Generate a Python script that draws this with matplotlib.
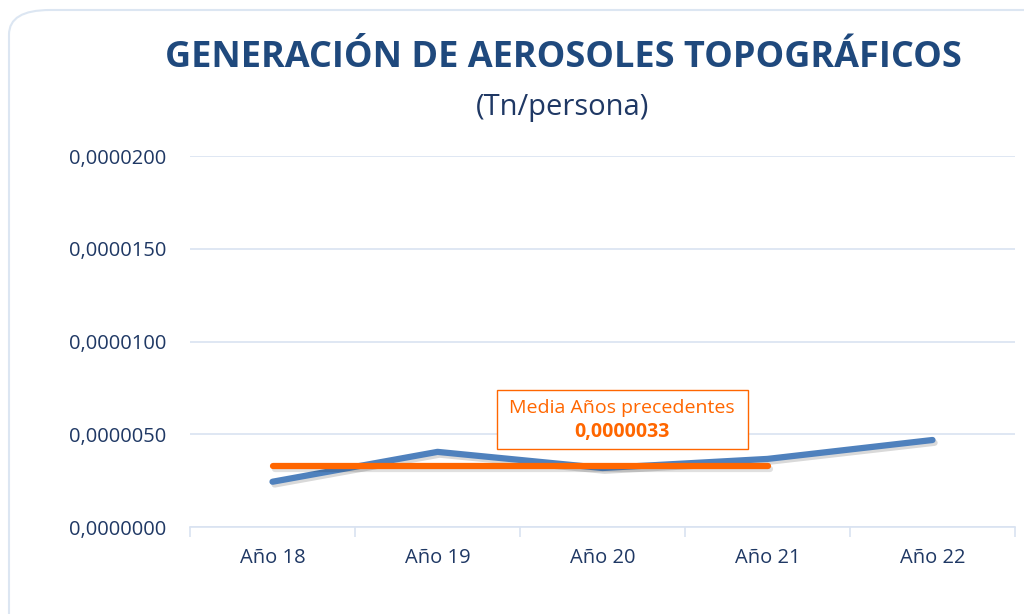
import matplotlib
matplotlib.use("Agg")
import matplotlib.pyplot as plt
import matplotlib.patheffects as pe
from matplotlib.patches import FancyBboxPatch, Rectangle
from matplotlib.ticker import FuncFormatter, MultipleLocator

categories = ["Año 18", "Año 19", "Año 20", "Año 21", "Año 22"]
values = [0.00000244, 0.00000405, 0.00000318, 0.00000367, 0.00000469]
mean_value = 0.0000033
mean_span = ["Año 18", "Año 19", "Año 20", "Año 21"]

title = "GENERACIÓN DE AEROSOLES TOPOGRÁFICOS"
subtitle = "(Tn/persona)"
note_label = "Media Años precedentes"
note_value = "0,0000033"

FONT = ["Open Sans", "DejaVu Sans"]
plt.rcParams["font.family"] = FONT

dark = "#1f3864"
title_col = "#1f497d"
blue = "#4f81bd"
orange = "#ff6600"
grid_col = "#d9e3f1"

fig = plt.figure(figsize=(10.24, 6.14), dpi=100)
fig.patch.set_facecolor("white")

# rounded border
border = FancyBboxPatch((9 / 1024, -0.05), 1.1, 1 - 10 / 614 + 0.05,
                        boxstyle="round,pad=0,rounding_size=0.04",
                        transform=fig.transFigure, facecolor="none",
                        edgecolor="#dce6f2", linewidth=1.5, zorder=0)
fig.patches.append(border)

ax = fig.add_axes([190 / 1024, 1 - 527 / 614, (1015 - 190) / 1024, (527 - 156) / 614])
ax.set_facecolor("none")

x = list(range(len(categories)))
ax.plot(x, values, color=blue, lw=4.5, solid_capstyle="round", zorder=3,
        path_effects=[pe.SimpleLineShadow(offset=(1.5, -2), shadow_color="black", alpha=0.15),
                      pe.Normal()])
xm = [categories.index(c) for c in mean_span]
ax.plot(xm, [mean_value] * len(xm), color=orange, lw=4.5, solid_capstyle="round", zorder=4,
        path_effects=[pe.SimpleLineShadow(offset=(1.5, -2), shadow_color="black", alpha=0.12),
                      pe.Normal()])

ax.set_xlim(-0.5, len(categories) - 0.5)
ax.set_ylim(0, 0.00002)
ax.yaxis.set_major_locator(MultipleLocator(0.000005))
ax.yaxis.set_major_formatter(FuncFormatter(lambda v, p: f"{v:.7f}".replace(".", ",")))
ax.grid(axis="y", color=grid_col, lw=1.2)
ax.set_axisbelow(True)
for s in ["top", "right", "left"]:
    ax.spines[s].set_visible(False)
ax.spines["bottom"].set_color(grid_col)
ax.spines["bottom"].set_linewidth(1.2)

ax.set_xticks(x)
ax.set_xticklabels(categories)
ax.set_xticks([i - 0.5 for i in range(len(categories) + 1)], minor=True)
ax.tick_params(axis="x", which="major", length=0, pad=15, labelsize=14.5, labelcolor=dark)
ax.tick_params(axis="x", which="minor", length=7, color=grid_col, width=1.2)
ax.tick_params(axis="y", length=0, pad=17, labelsize=14.5, labelcolor=dark)

fig.text(563 / 1024, 1 - 58 / 614, title, ha="center", va="center",
         fontsize=26, fontweight="bold", color=title_col)
fig.text(563 / 1024, 1 - 107 / 614, subtitle, ha="center", va="center",
         fontsize=21, color=dark)

# annotation box (figure pixel placement)
box = Rectangle((497 / 1024, 1 - 449 / 614), (748 - 497) / 1024, (449 - 390) / 614,
                transform=fig.transFigure, facecolor="white", edgecolor=orange,
                lw=1, zorder=5)
fig.patches.append(box)
fig.text(622 / 1024, 1 - 408 / 614, note_label, ha="center", va="center",
         fontsize=14, color=orange, zorder=6)
fig.text(622 / 1024, 1 - 432 / 614, note_value, ha="center", va="center",
         fontsize=14, color=orange, fontweight="bold", zorder=6)

fig.savefig("out.png", dpi=100)
